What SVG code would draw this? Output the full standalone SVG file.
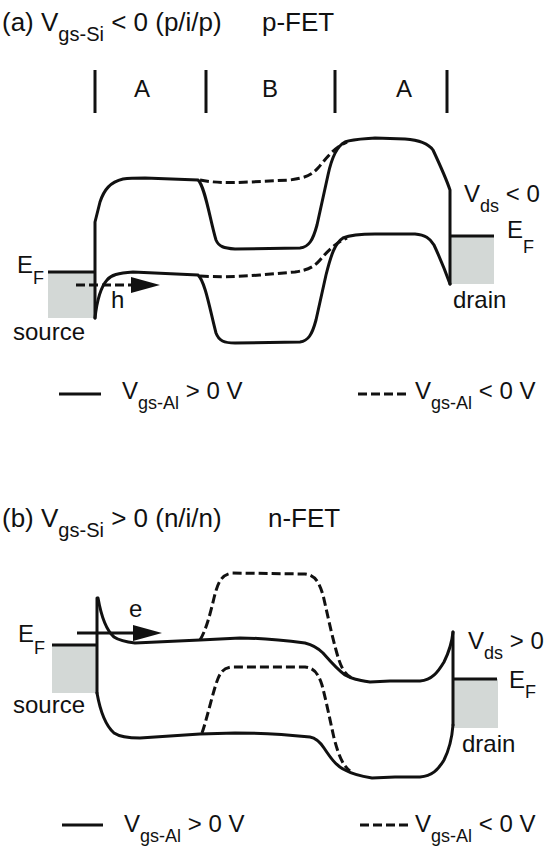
<svg xmlns="http://www.w3.org/2000/svg" width="545" height="848" viewBox="0 0 545 848">
<style>
text{font-family:"Liberation Sans",Arial,Helvetica,sans-serif;fill:#111;font-size:24px}
.t{font-size:26px}
.sub{font-size:18px}
.tsub{font-size:20px}
.band{fill:none;stroke:#111;stroke-width:3;stroke-linejoin:round;stroke-linecap:round}
.dash{fill:none;stroke:#111;stroke-width:3;stroke-dasharray:9 4}
.ef{stroke:#111;stroke-width:3}
.fill{fill:#d3d8d6}
.bar{stroke:#111;stroke-width:3}
</style>
<rect width="545" height="848" fill="#fff"/>

<g id="panel-a">
<text id="title-a" class="t" x="2" y="31">(a) V<tspan class="tsub" dy="10">gs-Si</tspan><tspan dy="-10"> &lt; 0 (p/i/p)</tspan><tspan x="262">p-FET</tspan></text>
<g id="regions-a">
<line class="bar" x1="95" y1="70" x2="95" y2="113"/>
<line class="bar" x1="206" y1="70" x2="206" y2="113"/>
<line class="bar" x1="335" y1="70" x2="335" y2="113"/>
<line class="bar" x1="447" y1="70" x2="447" y2="113"/>
<text x="134" y="97">A</text>
<text x="262" y="97">B</text>
<text x="396" y="97">A</text>
</g>
<g id="source-a">
<rect class="fill" x="48" y="272" width="47" height="46"/>
<line class="ef" x1="48" y1="272" x2="95" y2="272"/>
<text x="17" y="273">E<tspan class="sub" dy="11">F</tspan></text>
<text x="13" y="340">source</text>
</g>
<g id="drain-a">
<rect class="fill" x="450" y="236" width="44" height="48"/>
<line class="ef" x1="450" y1="236" x2="494" y2="236"/>
<text x="507" y="238">E<tspan class="sub" dy="15">F</tspan></text>
<text x="453" y="308">drain</text>
<text x="464" y="202">V<tspan class="sub" dy="10">ds</tspan><tspan dy="-10"> &lt; 0</tspan></text>
</g>
<g id="bands-a">
<path class="band" d="M95,318 L95,222 L100,202 C104,190 110,182 123,179 C130,178 137,178 145,178 L198,180 C205,186 210,220 216,240 C219,247 224,248 235,249 L300,248 C309,247 313,240 317,225 L328,175 C332,156 337,146 345,142 C352,139 360,139 375,138 L405,139 C419,140 428,143 433,150 C440,165 446,178 450,190 L450,284"/>
<path class="band" d="M95,318 C97,300 100,288 107,280 C111,275 118,273 133,272 L198,275 C205,281 210,310 216,333 C219,341 224,343 235,343 L300,342 C308,341 312,335 316,320 L326,275 C331,255 335,243 343,238 C350,235 360,234 375,234 L415,234 C425,235 430,238 434,245 C440,258 445,270 450,284"/>
<path class="dash" d="M200,180 C215,183 230,183 250,182 L290,180 C305,178 312,175 318,168 C325,160 333,148 347,142"/>
<path class="dash" d="M200,276 C215,277 235,277 260,275 L295,272 C308,270 314,267 320,260 C327,252 335,243 347,238"/>
</g>
<g id="hole-a">
<line class="dash" x1="76" y1="285" x2="132" y2="285"/>
<path d="M131,277 L160,285 L131,293 Z" fill="#111"/>
<text x="111" y="308">h</text>
</g>
<g id="legend-a">
<line class="ef" x1="59" y1="394" x2="101" y2="394"/>
<text x="122" y="399">V<tspan class="sub" dy="10">gs-Al</tspan><tspan dy="-10"> &gt; 0 V</tspan></text>
<line class="dash" x1="358" y1="394" x2="408" y2="394"/>
<text x="415" y="399">V<tspan class="sub" dy="10">gs-Al</tspan><tspan dy="-10"> &lt; 0 V</tspan></text>
</g>
</g>

<g id="panel-b">
<text id="title-b" class="t" x="2" y="527">(b) V<tspan class="tsub" dy="10">gs-Si</tspan><tspan dy="-10"> &gt; 0 (n/i/n)</tspan><tspan x="268">n-FET</tspan></text>
<g id="source-b">
<rect class="fill" x="52" y="645" width="45" height="48"/>
<line class="ef" x1="52" y1="645" x2="97" y2="645"/>
<text x="18" y="642">E<tspan class="sub" dy="12">F</tspan></text>
<text x="13" y="713">source</text>
</g>
<g id="drain-b">
<rect class="fill" x="453" y="679" width="45" height="49"/>
<line class="ef" x1="453" y1="679" x2="497" y2="679"/>
<text x="509" y="688">E<tspan class="sub" dy="10">F</tspan></text>
<text x="462" y="752">drain</text>
<text x="468" y="649">V<tspan class="sub" dy="10">ds</tspan><tspan dy="-10"> &gt; 0</tspan></text>
</g>
<g id="bands-b">
<path class="band" d="M97,598 L97,693"/>
<path class="band" d="M453,632 L453,725"/>
<path class="band" d="M98,598 C101,615 106,630 114,637 C120,641 126,642 135,643 L200,640 L240,638 C260,638 290,641 305,643 C313,645 318,648 323,653 C330,661 338,670 345,675 C352,679 358,680 370,682 L390,681 L420,681 C432,680 438,672 444,662 C449,652 452,642 453,632"/>
<path class="band" d="M97,693 C100,710 105,725 114,733 C120,737 128,738 140,738 L200,734 L235,733 C260,733 290,735 310,737 C316,738 320,742 324,748 C330,757 336,766 345,770 C352,774 360,776 372,778 L395,777 L420,777 C432,776 438,770 444,760 C449,750 452,738 453,725"/>
<path class="dash" d="M200,640 C206,630 210,615 214,598 C218,582 221,575 232,573 L305,574 C315,575 319,582 323,595 C327,612 331,632 336,650 C340,665 344,675 352,678"/>
<path class="dash" d="M202,733 C206,722 211,700 216,684 C220,672 223,668 232,667 L305,667 C314,668 318,673 322,685 C326,700 330,720 334,738 C338,753 342,765 350,771"/>
</g>
<g id="electron-b">
<line class="ef" x1="77" y1="633" x2="134" y2="633"/>
<path d="M133,625 L162,633 L133,641 Z" fill="#111"/>
<text x="129" y="617">e</text>
</g>
<g id="legend-b">
<line class="ef" x1="62" y1="825" x2="103" y2="825"/>
<text x="124" y="832">V<tspan class="sub" dy="10">gs-Al</tspan><tspan dy="-10"> &gt; 0 V</tspan></text>
<line class="dash" x1="360" y1="825" x2="410" y2="825"/>
<text x="415" y="832">V<tspan class="sub" dy="10">gs-Al</tspan><tspan dy="-10"> &lt; 0 V</tspan></text>
</g>
</g>
</svg>
